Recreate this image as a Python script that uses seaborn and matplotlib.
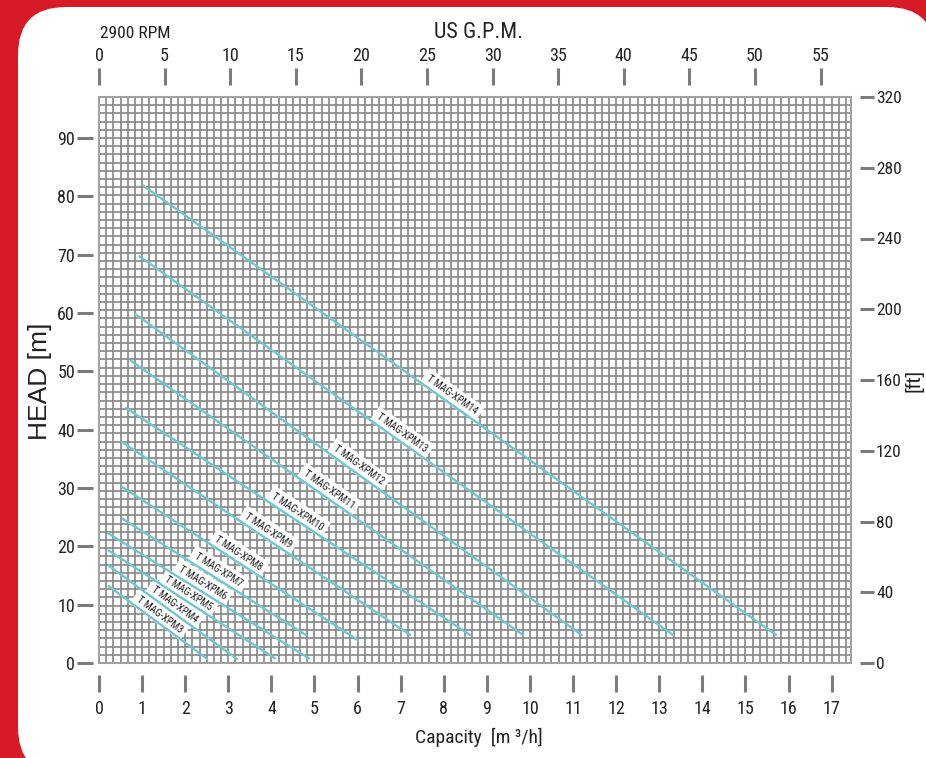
import numpy as np
import pandas as pd
import seaborn as sns
import matplotlib.pyplot as plt
from matplotlib.patches import FancyBboxPatch, Rectangle
from matplotlib.transforms import IdentityTransform

# pump curves (capacity m3/h, head m) - straight lines
models = ['T MAG-XPM3', 'T MAG-XPM4', 'T MAG-XPM5', 'T MAG-XPM6', 'T MAG-XPM7',
          'T MAG-XPM8', 'T MAG-XPM9', 'T MAG-XPM10', 'T MAG-XPM11', 'T MAG-XPM12',
          'T MAG-XPM13', 'T MAG-XPM14']
q_start = [0.22, 0.22, 0.22, 0.22, 0.53, 0.53, 0.53, 0.63, 0.74, 0.84, 0.94, 1.03]
h_start = [13.2, 16.7, 19.3, 22.2, 24.8, 30.2, 37.9, 43.7, 51.8, 59.8, 69.7, 81.8]
q_end = [2.51, 3.20, 4.08, 4.87, 4.80, 6.01, 7.22, 8.61, 9.84, 11.20, 13.32, 15.71]
h_end = [0.7, 0.7, 0.8, 0.8, 4.8, 3.9, 4.8, 4.8, 4.8, 4.8, 4.8, 4.8]
# capacity where each model label starts
label_q = [0.84, 1.18, 1.49, 1.80, 2.17, 2.65, 3.34, 3.97, 4.70, 5.40, 6.40, 7.56]

m3h_ticks = list(range(0, 18))
gpm_ticks = list(range(0, 60, 5))
head_ticks = list(range(0, 100, 10))
ft_ticks = list(range(0, 360, 40))

rows = []
for m, qa, ha, qb, hb in zip(models, q_start, h_start, q_end, h_end):
    rows.append((m, qa, ha))
    rows.append((m, qb, hb))
df = pd.DataFrame(rows, columns=['model', 'Q', 'H'])

sns.set_style('white')
narrow = ['Roboto Condensed', 'Liberation Sans', 'DejaVu Sans']
plt.rcParams['font.family'] = narrow

XMAX, YMAX = 17.45, 97.0
GPM_PER_M3H, FT_MAX = 3.285, 320

fig = plt.figure(figsize=(9.26, 7.58), dpi=100)
fig.patch.set_facecolor('#d71a28')
panel = FancyBboxPatch((18, -17), 917, 768, boxstyle='round,pad=0,rounding_size=48',
                       transform=IdentityTransform(), fc='white', ec='none', zorder=-1)
fig.add_artist(panel)

ax = fig.add_axes([99 / 926, 1 - 663 / 758, 752 / 926, 566 / 758])
ax.set_xlim(0, XMAX)
ax.set_ylim(0, YMAX)

sns.lineplot(data=df, x='Q', y='H', units='model', estimator=None, color='#6fc7cb',
             lw=1.7, ax=ax, legend=False, zorder=4)

# mesh
gc = '#8a8a8a'
ax.set_xticks(np.arange(0, XMAX, 1 / 6), minor=True)
ax.set_yticks(np.arange(0, YMAX + 0.01, YMAX / 69), minor=True)
ax.set_axisbelow(True)
ax.xaxis.grid(True, which='both', color=gc, lw=1.25)
ax.yaxis.grid(True, which='minor', color=gc, lw=1.25)
ax.yaxis.grid(False, which='major')
ax.add_patch(Rectangle((0, 0), 1, 1, transform=ax.transAxes, fill=False, ec='#a0a0a0',
                       lw=1.5, clip_on=False, zorder=5))

tc = '#7b7b7b'
txt = '#222222'
ax.set_xticks(m3h_ticks, labels=[str(v) for v in m3h_ticks])
ax.set_yticks(head_ticks, labels=[str(v) for v in head_ticks])
for lbl in ax.get_xticklabels():
    if lbl.get_text() == '1':
        lbl.set_fontweight('bold')
for s in ax.spines.values():
    s.set_visible(False)
ax.spines['left'].set_position(('outward', 4.3))
ax.spines['bottom'].set_position(('outward', 8.6))
ax.tick_params(which='minor', length=0)
ax.tick_params(axis='y', which='major', left=True, length=11.5, width=2.2, color=tc,
               pad=1.5, labelsize=13, labelcolor=txt)
ax.tick_params(axis='x', which='major', bottom=True, length=12, width=2.2, color=tc,
               pad=6, labelsize=13, labelcolor=txt)
ax.set_xlabel('')
ax.set_ylabel('')

# top: US GPM
ax_top = ax.twiny()
ax_top.set_xlim(0, XMAX * GPM_PER_M3H)
ax_top.set_xticks(gpm_ticks, labels=[str(v) for v in gpm_ticks])
for s in ax_top.spines.values():
    s.set_visible(False)
ax_top.spines['top'].set_position(('outward', 8.6))
ax_top.tick_params(axis='x', top=True, length=12, width=2.2, color=tc, pad=2.5,
                   labelsize=13, labelcolor=txt)

# right: feet
ax_r = ax.twinx()
ax_r.set_ylim(0, FT_MAX)
ax_r.set_yticks(ft_ticks, labels=[str(v) for v in ft_ticks])
for s in ax_r.spines.values():
    s.set_visible(False)
ax_r.spines['right'].set_position(('outward', 6.5))
ax_r.tick_params(axis='y', right=True, length=10, width=2.2, color=tc, pad=1.5,
                 labelsize=12.5, labelcolor=txt)

# model labels along the lines
for m, qa, ha, qb, hb, lq in zip(models, q_start, h_start, q_end, h_end, label_q):
    p0 = ax.transData.transform((qa, ha))
    p1 = ax.transData.transform((qb, hb))
    ang = np.degrees(np.arctan2(p1[1] - p0[1], p1[0] - p0[0]))
    lh = np.interp(lq, [qa, qb], [ha, hb])
    ax.text(lq, lh + 0.6, m, rotation=ang, rotation_mode='anchor', ha='left', va='bottom',
            fontsize=7.5, color=txt, zorder=3,
            bbox=dict(boxstyle='square,pad=0.4', fc='white', ec='none'))

fig.text(100 / 926, 1 - 34 / 758, '2900 RPM', ha='left', va='center', fontsize=12.5, color=txt)
fig.text(479 / 926, 1 - 32 / 758, 'US G.P.M.', ha='center', va='center', fontsize=16, color=txt)
fig.text(479 / 926, 1 - 737 / 758, 'Capacity  [m ³/h]', ha='center', va='center',
         fontsize=14, color=txt)
fig.text(40 / 926, 1 - 381 / 758, 'HEAD [m]', rotation=90, ha='center', va='center',
         fontsize=19, color=txt, family=['Liberation Sans', 'DejaVu Sans'])
fig.text(914 / 926, 1 - 380 / 758, '[ft]', rotation=90, ha='center', va='center',
         fontsize=15, color=txt, family=['Liberation Sans', 'DejaVu Sans'])

fig.savefig('out.png', dpi=100, facecolor=fig.get_facecolor())
